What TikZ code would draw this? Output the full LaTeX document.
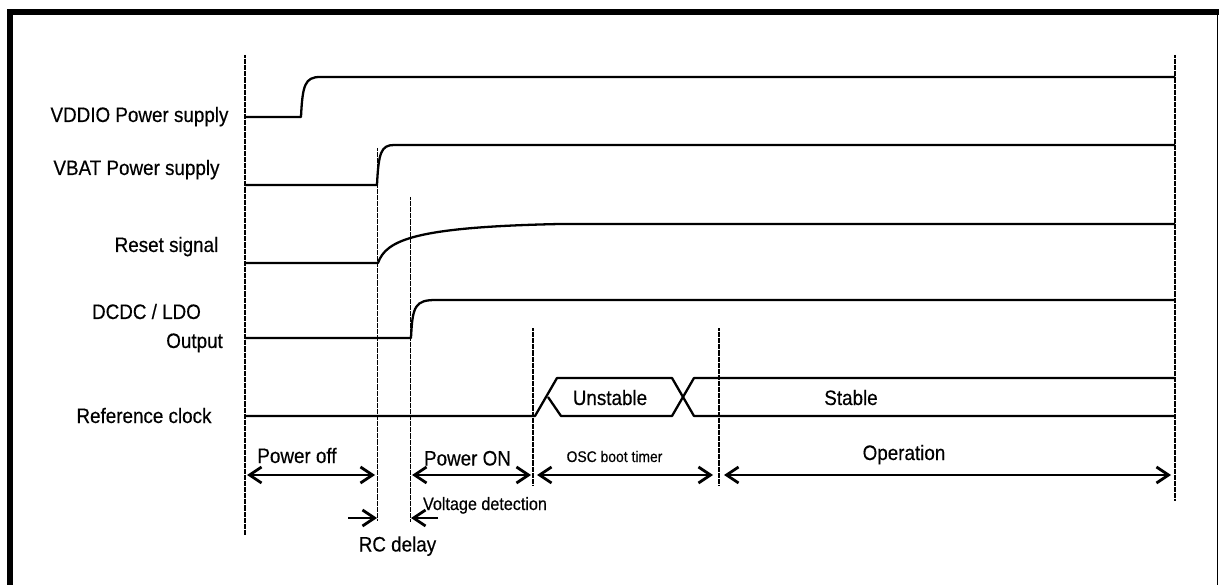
\documentclass[tikz,border=0pt]{standalone}
\usepackage{fontspec}
\setmainfont{Liberation Sans}[FakeStretch=0.9,FakeBold=0.4]
\usetikzlibrary{arrows.meta}
\begin{document}
\begin{tikzpicture}[x=1bp,y=-1bp,
  sig/.style={line width=2.3pt, line join=round},
  vdot/.style={line width=1.5pt, dash pattern=on 0.7pt off 0.5pt},
  dimarrow/.style={line width=2.8pt, {Straight Barb[length=12bp,width=16bp]}-{Straight Barb[length=12bp,width=16bp]}},
  onearrow/.style={line width=2.8pt, -{Straight Barb[length=12bp,width=16bp]}},
  lbl/.style={inner sep=0, anchor=base, font=\fontsize{21}{24}\selectfont},
  small/.style={inner sep=0, anchor=base, font=\fontsize{15.5}{18}\selectfont},
  mid/.style={inner sep=0, anchor=base, font=\fontsize{18}{21}\selectfont}]
\useasboundingbox (0,0) rectangle (1219,585);
% frame
\fill (7,9) rectangle (1219,15);
\fill (7,9) rectangle (12.5,585);
\draw[line width=1.5bp] (1217.5,15) -- (1217.5,585);

% signal labels
\node[lbl] (lvddio) at (139.5,122) {VDDIO Power supply};
\node[lbl] (lvbat) at (136.5,175) {VBAT Power supply};
\node[lbl] (lreset) at (166.5,252) {Reset signal};
\node[lbl] (ldcdc) at (146.5,319) {DCDC / LDO};
\node[lbl,anchor=base east] (lout) at (223,348) {Output};
\node[lbl] (lref) at (144,423) {Reference clock};

% dotted vertical lines
\draw[vdot] (245,55) -- (245,535);
\draw[vdot] (1175,55) -- (1175,500);
\draw[vdot] (377.7,148) -- (377.7,521);
\draw[vdot] (410.7,197) -- (410.7,522);
\draw[vdot] (533,328) -- (533,485);
\draw[vdot] (719,328) -- (719,485);

% VDDIO
\draw[sig] (245,117) -- (301,117) .. controls (302.5,85) and (305,77) .. (320,77) -- (1175,77);
% VBAT
\draw[sig] (245,185) -- (377,185) .. controls (378.5,153) and (381,145) .. (394,145) -- (1175,145);
% Reset
\draw[sig] (245,263) -- (378,263) .. controls (386,240) and (415,227) .. (560,224) -- (1175,224);
% DCDC / LDO
\draw[sig] (245,338) -- (411,338) .. controls (412.5,306) and (415,300) .. (436,300) -- (1175,300);
% Reference clock
\draw[sig] (245,416) -- (535,416) -- (557,378) -- (672,378) -- (694,416) -- (1175,416);
\draw[sig] (548,397) -- (561,416) -- (672,416) -- (694,378) -- (1175,378);
\node[lbl] (lunst) at (610,405) {Unstable};
\node[lbl] (lstab) at (851,405) {Stable};

% phase arrows
\coordinate (poA) at (247,475);
\coordinate (poB) at (375,475);
\coordinate (pnA) at (412,475);
\coordinate (pnB) at (531,475);
\coordinate (osA) at (537,475);
\coordinate (osB) at (713,475);
\coordinate (opA) at (724,475);
\coordinate (opB) at (1171,475);
\draw[dimarrow] (poA) -- (poB);
\draw[dimarrow] (pnA) -- (pnB);
\draw[dimarrow] (osA) -- (osB);
\draw[dimarrow] (opA) -- (opB);
\node[lbl] (lpoff) at (297,463) {Power off};
\node[lbl] (lpon) at (467.5,465.5) {Power ON};
\node[small] (losc) at (614.5,462) {OSC boot timer};
\node[lbl] (lop) at (904,460) {Operation};

% RC delay / voltage detection arrows
\coordinate (rcA) at (348,518);
\coordinate (rcB) at (377,518);
\coordinate (vdA) at (438,518);
\coordinate (vdB) at (411,518);
\draw[onearrow] (rcA) -- (rcB);
\draw[onearrow] (vdA) -- (vdB);
\node[mid] (lvd) at (485,510) {Voltage detection};
\node[lbl] (lrc) at (397.5,551.5) {RC delay};
\end{tikzpicture}
\end{document}
